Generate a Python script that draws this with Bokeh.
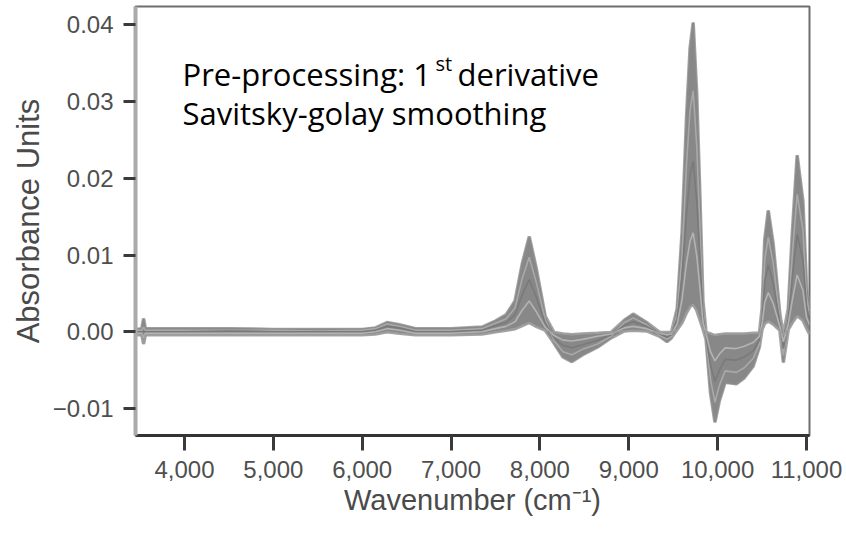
import numpy as np
from bokeh.plotting import figure
from bokeh.models import (FixedTicker, NumeralTickFormatter, CustomJSTickFormatter,
                          Label, Range1d)
from bokeh.embed import file_html
from bokeh.resources import INLINE

# ---- data ----
wavenumber = [3450, 3520, 3540, 3560, 4000, 4500, 5000, 5500, 6000, 6150, 6280, 6420, 6600,
              7000, 7350, 7500, 7620, 7720, 7800, 7880, 7960, 8060, 8160, 8260, 8360, 8480,
              8650, 8800, 8950, 9050, 9200, 9350, 9430, 9480, 9545, 9600, 9650, 9690, 9725,
              9765, 9800, 9835, 9870, 9920, 9970, 10020, 10085, 10210, 10300, 10400, 10470,
              10500, 10530, 10570, 10625, 10700, 10740, 10795, 10840, 10895, 10960, 11000, 11035]

sample_1 = [0.0003, 0.0004, 0.0017, 0.0004, 0.0004, 0.0004, 0.0003, 0.0003, 0.0003, 0.0005, 0.0012, 0.0009, 0.0004,
            0.0004, 0.0006, 0.0014, 0.0022, 0.0040, 0.0088, 0.0124, 0.0082, 0.0020, -0.0015, -0.0033, -0.0039, -0.0030,
            -0.0020, -0.0008, 0.0015, 0.0023, 0.0012, -0.0006, -0.0013, -0.0008, 0.0030, 0.0130, 0.0280, 0.0370, 0.0403,
            0.0310, 0.0180, 0.0040, -0.0010, -0.0080, -0.0118, -0.0090, -0.0066, -0.0068, -0.0060, -0.0045, -0.0020,
            0.0030, 0.0120, 0.0158, 0.0115, 0.0023, -0.0040, 0.0030, 0.0128, 0.0230, 0.0170, 0.0060, 0.0027]
sample_2 = [0.0002, 0.0002, 0.0006, 0.0002, 0.0002, 0.0002, 0.0002, 0.0001, 0.0002, 0.0004, 0.0010, 0.0007, 0.0002,
            0.0002, 0.0004, 0.0011, 0.0017, 0.0031, 0.0069, 0.0097, 0.0064, 0.0016, -0.0012, -0.0026, -0.0030, -0.0023,
            -0.0016, -0.0006, 0.0012, 0.0018, 0.0009, -0.0005, -0.0010, -0.0006, 0.0023, 0.0101, 0.0218, 0.0289, 0.0314,
            0.0242, 0.0140, 0.0031, -0.0008, -0.0062, -0.0092, -0.0070, -0.0051, -0.0053, -0.0047, -0.0035, -0.0016,
            0.0023, 0.0094, 0.0123, 0.0090, 0.0018, -0.0031, 0.0023, 0.0100, 0.0179, 0.0133, 0.0047, 0.0021]
sample_3 = [0.0000, 0.0000, 0.0000, 0.0000, 0.0000, 0.0001, 0.0000, 0.0000, 0.0000, 0.0002, 0.0007, 0.0005, 0.0000,
            0.0000, 0.0002, 0.0008, 0.0012, 0.0022, 0.0048, 0.0068, 0.0045, 0.0011, -0.0008, -0.0018, -0.0021, -0.0017,
            -0.0011, -0.0004, 0.0008, 0.0013, 0.0007, -0.0003, -0.0007, -0.0004, 0.0017, 0.0072, 0.0154, 0.0204, 0.0222,
            0.0171, 0.0099, 0.0022, -0.0006, -0.0044, -0.0065, -0.0050, -0.0036, -0.0037, -0.0033, -0.0025, -0.0011,
            0.0017, 0.0066, 0.0087, 0.0063, 0.0013, -0.0022, 0.0017, 0.0070, 0.0127, 0.0094, 0.0033, 0.0015]
sample_4 = [-0.0002, -0.0002, -0.0008, -0.0002, -0.0002, -0.0002, -0.0002, -0.0002, -0.0002, 0.0000, 0.0004, 0.0002, -0.0002,
            -0.0002, 0.0000, 0.0004, 0.0007, 0.0013, 0.0028, 0.0040, 0.0026, 0.0006, -0.0005, -0.0011, -0.0012, -0.0010,
            -0.0006, -0.0003, 0.0005, 0.0007, 0.0004, -0.0002, -0.0004, -0.0003, 0.0010, 0.0042, 0.0090, 0.0118, 0.0129,
            0.0099, 0.0058, 0.0013, -0.0003, -0.0026, -0.0038, -0.0029, -0.0021, -0.0022, -0.0019, -0.0014, -0.0006,
            0.0010, 0.0038, 0.0051, 0.0037, 0.0007, -0.0013, 0.0010, 0.0041, 0.0074, 0.0054, 0.0019, 0.0009]
sample_5 = [-0.0004, -0.0004, -0.0016, -0.0004, -0.0004, -0.0004, -0.0004, -0.0004, -0.0004, -0.0003, 0.0000, -0.0002, -0.0004,
            -0.0004, -0.0003, 0.0000, 0.0002, 0.0004, 0.0008, 0.0012, 0.0007, 0.0002, -0.0001, -0.0003, -0.0004, -0.0003,
            -0.0002, -0.0001, 0.0001, 0.0002, 0.0001, -0.0001, -0.0001, -0.0001, 0.0003, 0.0012, 0.0025, 0.0033, 0.0036,
            0.0028, 0.0016, 0.0004, -0.0001, -0.0003, -0.0005, -0.0004, -0.0003, -0.0003, -0.0003, -0.0002, -0.0002,
            0.0003, 0.0011, 0.0014, 0.0010, 0.0002, -0.0004, 0.0003, 0.0012, 0.0021, 0.0015, 0.0005, -0.0003]

x_ticks = [4000, 5000, 6000, 7000, 8000, 9000, 10000, 11000]
y_ticks = [-0.01, 0.0, 0.01, 0.02, 0.03, 0.04]
x_label = "Wavenumber (cm\u207b\u00b9)"
y_label = "Absorbance Units"
note_line1 = "Pre-processing: 1"
note_sup = "st"
note_rest = "derivative"
note_line2 = "Savitsky-golay smoothing"

samples = [sample_1, sample_2, sample_3, sample_4, sample_5]
line_colors = ["#8a8a8a", "#a9a9a9", "#7a7a7a", "#b3b3b3", "#9c9c9c"]

stack = np.vstack([np.array(s) for s in samples])
upper = stack.max(axis=0)
lower = stack.min(axis=0)

p = figure(width=846, height=534, output_backend="svg", toolbar_location=None,
           x_range=Range1d(3449, 11034), y_range=Range1d(-0.01353, 0.0424),
           min_border_left=135, min_border_right=37, min_border_top=6, min_border_bottom=99,
           background_fill_color="white", border_fill_color="white")

# soft outer edge of the band
p.line(wavenumber, upper, line_color="#a5a5a5", line_width=3.5)
p.line(wavenumber, lower, line_color="#a5a5a5", line_width=3.5)
p.varea(x=wavenumber, y1=lower, y2=upper, fill_color="#888888")
for s, c in zip(samples, line_colors):
    p.line(wavenumber, s, line_color=c, line_width=1.6)

p.xgrid.visible = False
p.ygrid.visible = False
p.outline_line_color = "#6e6e6e"
p.outline_line_width = 2

tick_font = "Liberation Sans"
p.xaxis.ticker = FixedTicker(ticks=x_ticks)
p.xaxis.formatter = NumeralTickFormatter(format="0,0")
p.yaxis.ticker = FixedTicker(ticks=y_ticks)
p.yaxis.formatter = CustomJSTickFormatter(code="""
    if (Math.abs(tick) < 1e-9) { return '0.00'; }
    return (tick < 0 ? '\\u2212' : '') + Math.abs(tick).toFixed(2);
""")

for ax in (p.xaxis[0], p.yaxis[0]):
    ax.major_label_text_font = tick_font
    ax.major_label_text_font_size = "24px"
    ax.major_label_text_color = "#4f4f4f"
    ax.major_tick_in = 0
    ax.major_tick_line_width = 3
    ax.major_tick_line_color = "#3a3a3a"
    ax.minor_tick_line_color = None
    ax.axis_label_text_font = tick_font
    ax.axis_label_text_font_style = "normal"
    ax.axis_label_text_color = "#4a4a4a"

p.xaxis.axis_label = x_label
p.yaxis.axis_label = y_label
p.xaxis.major_tick_out = 15
p.yaxis.major_tick_out = 12
p.xaxis.major_label_standoff = 10
p.yaxis.major_label_standoff = 10
p.xaxis.axis_label_text_font_size = "29px"
p.yaxis.axis_label_text_font_size = "31px"
p.xaxis.axis_label_standoff = 3
p.yaxis.axis_label_standoff = 4
p.xaxis.axis_line_color = "#333333"
p.xaxis.axis_line_width = 3
p.yaxis.axis_line_color = "#aaaaaa"
p.yaxis.axis_line_width = 4

note_font = "Open Sans"
note_size = "31px"
p.add_layout(Label(x=3978, y=0.03366, text=note_line1, text_font=note_font,
                   text_font_size=note_size, text_color="black", text_baseline="alphabetic"))
p.add_layout(Label(x=6825, y=0.03496, text=note_sup, text_font=note_font,
                   text_font_size="20px", text_color="black", text_baseline="alphabetic"))
p.add_layout(Label(x=7073, y=0.03366, text=note_rest, text_font=note_font,
                   text_font_size=note_size, text_color="black", text_baseline="alphabetic"))
p.add_layout(Label(x=3978, y=0.02858, text=note_line2, text_font=note_font,
                   text_font_size=note_size, text_color="black", text_baseline="alphabetic"))

open("out.html", "w").write(file_html(p, INLINE))
